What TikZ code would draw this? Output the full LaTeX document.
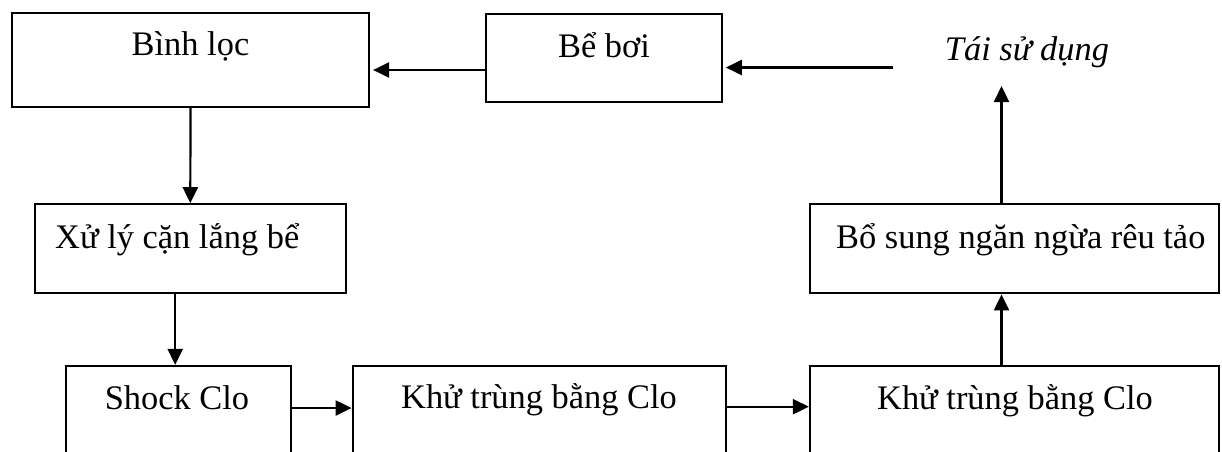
\documentclass[tikz,border=0pt]{standalone}
\usepackage{fontspec}
\setmainfont{Liberation Serif}
\usetikzlibrary{arrows.meta}
\tikzset{
  box/.style={draw, line width=2.2pt, rectangle, inner sep=0pt},
  lbl/.style={anchor=base, inner sep=0pt, font=\fontsize{34.4}{40}\selectfont},
  arr/.style={line width=2.2pt, -{Triangle[length=16pt,width=15pt]}},
}
\begin{document}
\begin{tikzpicture}[x=1pt,y=-1pt]
\clip (0,0) rectangle (1222,451);
\fill[white] (0,0) rectangle (1222,451);
% boxes
\node[box, minimum width=357pt, minimum height=94pt] (binh) at (190.5,60) {};
\node[box, minimum width=236pt, minimum height=88pt] (bebo) at (603.7,58) {};
\node[box, minimum width=310.7pt, minimum height=89pt] (xuly) at (190.3,248.8) {};
\node[box, minimum width=409pt, minimum height=89pt] (bosung) at (1014.5,248.8) {};
\node[box, minimum width=225pt, minimum height=104pt] (shock) at (178.2,418) {};
\node[box, minimum width=373pt, minimum height=104pt] (khu1) at (539.2,418) {};
\node[box, minimum width=409pt, minimum height=104pt] (khu2) at (1014.5,418) {};
% labels
\node[lbl] (tbinh) at (190.5,55) {Bình lọc};
\node[lbl] (tbebo) at (604,57) {Bể bơi};
\node[lbl, anchor=base west] (txuly) at (55,248.3) {Xử lý cặn lắng bể};
\node[lbl] (tbosung) at (1020.8,248.3) {Bổ sung ngăn ngừa rêu tảo};
\node[lbl] (tshock) at (177,409.3) {Shock Clo};
\node[lbl] (tkhu1) at (539,408) {Khử trùng bằng Clo};
\node[lbl] (tkhu2) at (1015,409.3) {Khử trùng bằng Clo};
\node[lbl, font=\fontsize{34.4}{40}\selectfont\itshape] (tai) at (1027,60) {Tái sử dụng};
\coordinate (taistart) at (892.7,67.5);
% connectors
\draw[arr, shorten >=3pt] (taistart) -- (taistart -| bebo.east);
\draw[arr, shorten >=3pt] ([yshift=-12pt]bebo.west) -- ([yshift=-12pt]bebo.west -| binh.east);
\draw[arr] (binh.south) -- (xuly.north);
\draw[arr] ([xshift=-3pt]shock.north |- xuly.south) -- ([xshift=-3pt]shock.north);
\draw[arr] (shock.east |- 0,408) -- (khu1.west |- 0,408);
\draw[arr] (khu1.east |- 0,406.7) -- (khu2.west |- 0,406.7);
\draw[arr] ([xshift=-13pt]khu2.north) -- ([xshift=-13pt]bosung.south);
\draw[arr] ([xshift=-13pt]bosung.north) -- ([xshift=-13pt]bosung.north |- 0,86);
\end{tikzpicture}
\end{document}
